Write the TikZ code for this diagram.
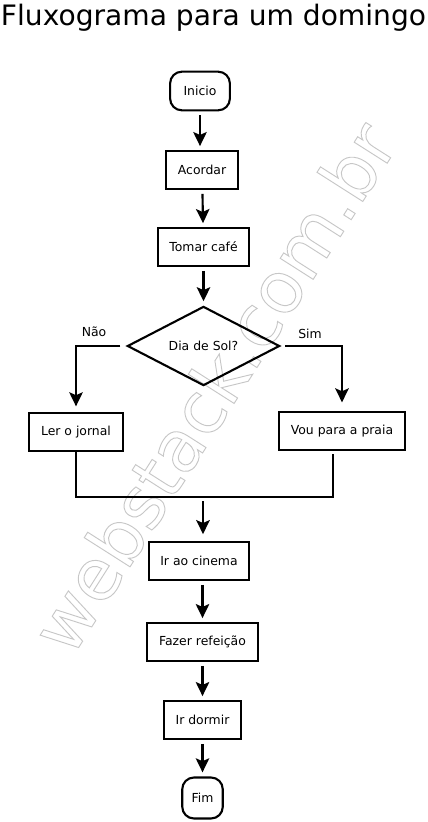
\documentclass[tikz,border=0pt]{standalone}
\usepackage{fontspec}
\setmainfont{DejaVu Sans}
\usetikzlibrary{arrows.meta, shapes.geometric, positioning}

\newcommand{\contorno}[1]{\special{pdf:literal direct 1 Tr 0.8 w}#1\special{pdf:literal direct 0 Tr}}

\tikzset{
	caixa/.style={draw, line width=1.8pt, minimum height=32pt, inner xsep=10pt,
		font=\fontsize{10.6}{12}\selectfont},
	terminal/.style={caixa, rounded corners=10pt},
	decisao/.style={draw, diamond, line width=1.8pt, minimum width=130pt,
		minimum height=65pt, inner sep=0pt, font=\fontsize{10.6}{12}\selectfont},
	seta/.style={-{Stealth[length=12pt, width=11.5pt, inset=2.5pt]}, line width=1.8pt,
		shorten <=3.5pt, shorten >=3.5pt},
	linha/.style={line width=1.8pt},
	rotulo/.style={font=\fontsize{10.6}{12}\selectfont},
	titulo/.style={font=\fontsize{24}{28}\selectfont},
	marca/.style={rotate=57.5, text=black!22, font=\fontsize{61}{64}\selectfont}
}

\begin{document}
\begin{tikzpicture}[x=0.03cm, y=-0.03cm]
	\useasboundingbox (0,0) rectangle (428,822);

	% marca d'agua
	\node[marca] (marca) at (213,387) {\contorno{webstack.com.br}};

	% titulo
	\node[titulo, anchor=base] (titulo) at (213.5,26) {Fluxograma para um domingo};

	% blocos
	\node[terminal, minimum width=51pt, minimum height=33pt] (inicio) at (200,91) {Inicio};
	\node[caixa] (acordar) at (202,170) {Acordar};
	\node[caixa] (cafe) at (203.5,247) {Tomar café};
	\node[decisao] (sol) at (203.5,346) {Dia de Sol?};
	\node[caixa] (jornal) at (76,432) {Ler o jornal};
	\node[caixa] (praia) at (342,431) {Vou para a praia};
	\coordinate (juncao) at (203,497);
	\coordinate (praiafim) at (333,454);
	\node[caixa] (cinema) at (199,561) {Ir ao cinema};
	\node[caixa] (refeicao) at (202.5,642) {Fazer refeição};
	\node[caixa] (dormir) at (202.5,720) {Ir dormir};
	\node[terminal, inner xsep=8pt, minimum height=35pt] (fim) at (202.5,798) {Fim};

	% rotulos da decisao
	\node[rotulo] (nao) at (94,332) {Não};
	\node[rotulo] (sim) at (310,334) {Sim};

	% ligacoes
	\draw[seta] (inicio.south) -- (inicio.south |- acordar.north);
	\draw[seta] (acordar) -- (cafe);
	\draw[seta] (cafe) -- (sol);
	\draw[seta, shorten <=5pt, shorten >=5pt] (sol.west) -| (jornal.north);
	\draw[seta, shorten <=4pt, shorten >=7.5pt] (sol.east) -| (praia.north);
	\draw[linha] (jornal.south) |- (praiafim |- juncao) -- (praiafim);
	\draw[seta, shorten >=6pt] (juncao) -- (juncao |- cinema.north);
	\draw[seta] (refeicao.north |- cinema.south) -- (refeicao.north);
	\draw[seta] (refeicao) -- (dormir);
	\draw[seta] (dormir) -- (fim);
\end{tikzpicture}
\end{document}
